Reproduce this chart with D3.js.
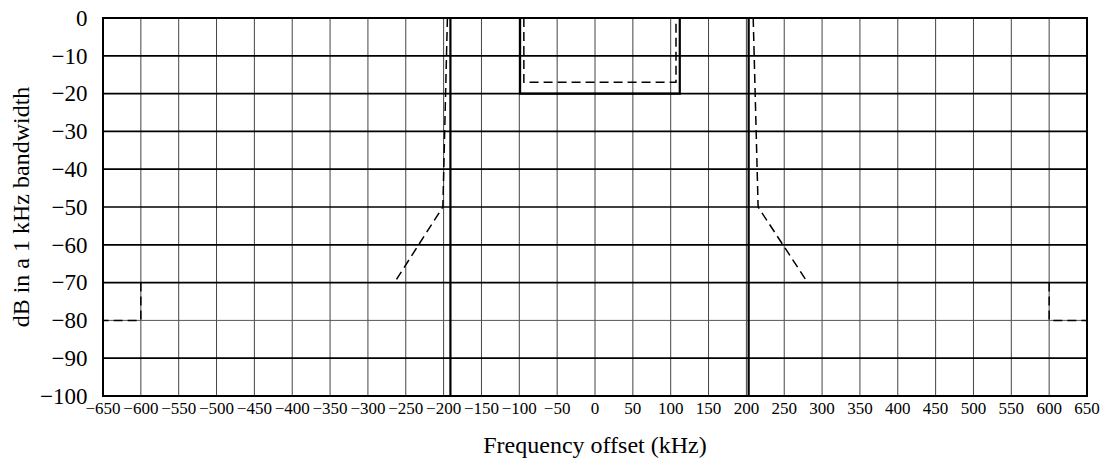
<!DOCTYPE html>
<html>
<head>
<meta charset="utf-8">
<script src="https://cdn.jsdelivr.net/npm/d3@7"></script>
<style>
  html, body { margin: 0; padding: 0; background: #fff; }
  svg { display: block; }
</style>
</head>
<body>
<svg id="chart" width="1104" height="461"></svg>
<script>
// Frequency axis (kHz) and level axis (dB)
const xTicks = [-650, -600, -550, -500, -450, -400, -350, -300, -250, -200, -150, -100, -50,
                0, 50, 100, 150, 200, 250, 300, 350, 400, 450, 500, 550, 600, 650];
const yTicks = [0, -10, -20, -30, -40, -50, -60, -70, -80, -90, -100];

// Solid mask: centre block plus the two channel edges
const solidCentre = [[-99, 0], [-99, -20], [112, -20], [112, 0]];
const solidLeftEdge = [[-191, 0], [-191, -100]];
const solidRightEdge = [[203, 0], [203, -100]];

// Dashed mask: centre block, skirts and far-out floor
const dashedCentre = [[-94, 0], [-94, -17], [107, -17], [107, 0]];
const dashedLeftSkirt = [[-195, 0], [-201, -50], [-265, -70]];
const dashedRightSkirt = [[209, 0], [215.5, -50], [281, -70]];
const dashedFarLeft = [[-600, -70], [-600, -80], [-650, -80]];
const dashedFarRight = [[600, -70], [600, -80], [650, -80]];

const serif = "Liberation Serif";
const svg = d3.select("#chart");
const plotLeft = 103, plotRight = 1087, plotTop = 18, plotBottom = 396;

const x = d3.scaleLinear().domain([-650, 650]).range([plotLeft, plotRight]);
const y = d3.scaleLinear().domain([-100, 0]).range([plotBottom, plotTop]);

// vertical grid
svg.append("g").selectAll("line")
  .data(xTicks.filter(d => d > -650 && d < 650))
  .join("line")
  .attr("x1", d => x(d)).attr("x2", d => x(d))
  .attr("y1", plotTop).attr("y2", plotBottom)
  .attr("stroke", "#444").attr("stroke-width", 1);

// horizontal grid
svg.append("g").selectAll("line")
  .data(yTicks.filter(d => d > -100 && d < 0))
  .join("line")
  .attr("x1", plotLeft).attr("x2", plotRight)
  .attr("y1", d => y(d)).attr("y2", d => y(d))
  .attr("stroke", d => d === -80 ? "#555" : "#000")
  .attr("stroke-width", d => d === -80 ? 1 : 1.7);

const line = d3.line().x(d => x(d[0])).y(d => y(d[1]));

// dashed mask
[dashedCentre, dashedLeftSkirt, dashedRightSkirt, dashedFarLeft, dashedFarRight].forEach(pts => {
  svg.append("path").attr("d", line(pts))
    .attr("fill", "none").attr("stroke", "#000")
    .attr("stroke-width", 1.5).attr("stroke-dasharray", "9,5");
});

// solid mask
[solidCentre, solidLeftEdge, solidRightEdge].forEach(pts => {
  svg.append("path").attr("d", line(pts))
    .attr("fill", "none").attr("stroke", "#000")
    .attr("stroke-width", 2.2);
});

// frame
svg.append("rect")
  .attr("x", plotLeft).attr("y", plotTop)
  .attr("width", plotRight - plotLeft).attr("height", plotBottom - plotTop)
  .attr("fill", "none").attr("stroke", "#000").attr("stroke-width", 2);

const fmt = v => v < 0 ? "\u2212" + Math.abs(v) : String(v);

// x tick labels
svg.append("g").selectAll("text")
  .data(xTicks).join("text")
  .attr("x", d => x(d)).attr("y", 413.5)
  .attr("text-anchor", "middle")
  .attr("font-family", serif)
  .attr("font-size", 17)
  .text(fmt);

// y tick labels
svg.append("g").selectAll("text")
  .data(yTicks).join("text")
  .attr("x", 87.5).attr("y", d => y(d) + 7.8)
  .attr("text-anchor", "end")
  .attr("font-family", serif)
  .attr("font-size", 23)
  .text(fmt);

// axis titles
svg.append("text")
  .attr("x", (plotLeft + plotRight) / 2).attr("y", 453)
  .attr("text-anchor", "middle")
  .attr("font-family", serif)
  .attr("font-size", 24)
  .text("Frequency offset (kHz)");

svg.append("text")
  .attr("transform", `translate(29,${(plotTop + plotBottom) / 2}) rotate(-90)`)
  .attr("text-anchor", "middle")
  .attr("font-family", serif)
  .attr("font-size", 24)
  .text("dB in a 1 kHz bandwidth");
</script>
</body>
</html>
